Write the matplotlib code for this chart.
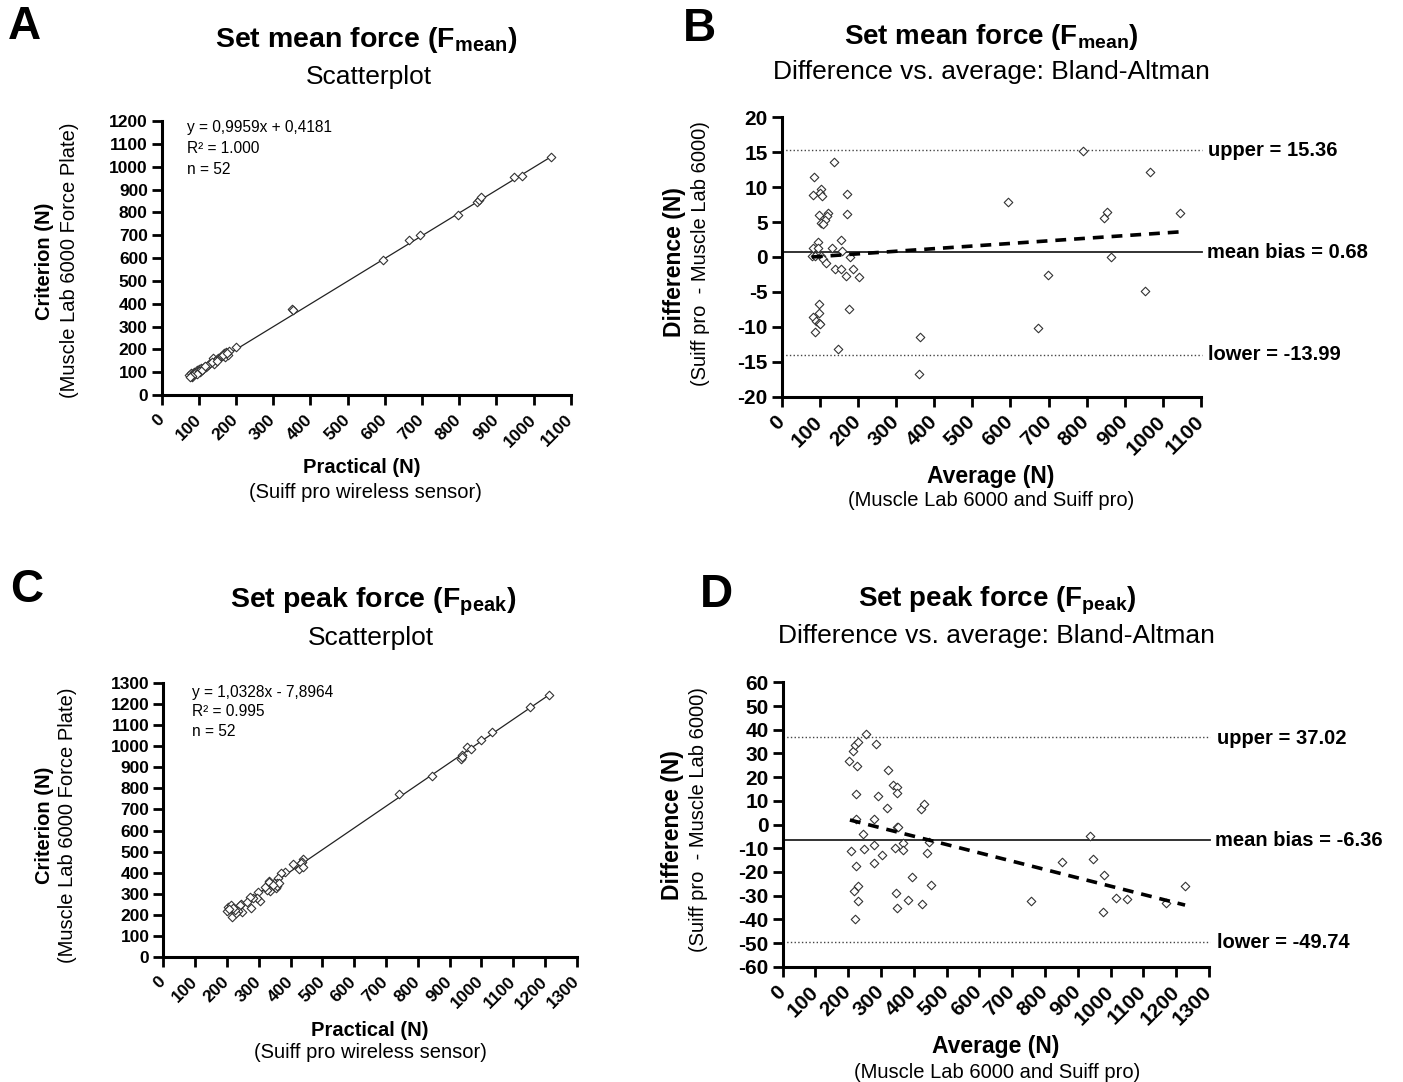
import matplotlib
matplotlib.use("Agg")
import matplotlib.pyplot as plt
import numpy as np

plt.rcParams['font.family'] = ['Liberation Sans', 'DejaVu Sans']
plt.rcParams['mathtext.fontset'] = 'custom'
plt.rcParams['mathtext.rm'] = 'Liberation Sans'
plt.rcParams['mathtext.bf'] = 'Liberation Sans:bold'

W, H = 1403, 1082

# ---- Panel A: set mean force, scatter ----
practical_mean = [74, 78, 81, 85, 88, 92, 94, 97, 100, 103, 106, 110, 114, 119, 125, 130,
                  137, 141, 146, 152, 157, 162, 168, 170, 173, 177, 182, 200, 83, 90, 99,
                  108, 116, 134, 150, 166, 175, 94, 82, 76,
                  351, 354, 596, 665, 696, 797, 849, 854, 860, 948, 970, 1048]
criterion_mean = [88, 95, 80, 88, 102, 95, 109, 102, 112, 102, 117, 112, 121, 124, 131, 139,
                  161, 136, 153, 161, 165, 171, 182, 168, 188, 175, 194, 212, 92, 98, 106,
                  109, 127, 146, 150, 177, 185, 92, 85, 77,
                  375, 372, 593, 680, 702, 787, 847, 854, 866, 956, 961, 1044]
fit_mean = (0.9959, 0.4181)

# ---- Panel B: set mean force, Bland-Altman ----
avg_mean = [85, 81, 103, 100, 105, 138, 172, 99, 122, 120, 114, 102, 109, 171, 94, 81, 95,
            133, 155, 159, 79, 103, 108, 116, 179, 139, 155, 188, 169, 204, 97, 99, 83, 89,
            97, 101, 87, 177, 149, 87, 364, 361, 594, 698, 672, 791, 846, 853, 863, 966,
            953, 1045]
diff_mean = [11.45, 8.9, 9.7, 9.1, 8.7, 13.6, 9.0, 6.0, 6.3, 5.9, 5.3, 4.9, 4.7, 6.2, 2.1,
             1.3, 1.3, 1.3, 2.4, 0.8, 0.2, 0.2, -0.3, -0.9, 0.05, -1.7, -1.7, -1.7, -2.7,
             -2.8, -6.7, -8.0, -8.6, -9.2, -9.5, -9.6, -10.8, -7.5, -13.1, 0.2, -11.5, -16.8,
             7.9, -2.6, -10.1, 15.2, 5.6, 6.5, 0.05, 12.2, -4.9, 6.3]
bias_mean, upper_mean, lower_mean = 0.68, 15.36, -13.99
trend_mean_x = [79, 1045]
trend_mean_y = [0.0, 3.6]

# ---- Panel C: set peak force, scatter ----
practical_peak = [1214, 1153, 1035, 999, 956, 968, 940, 935, 845, 742, 440, 437, 432, 428,
                  440, 408, 383, 370, 362, 356, 348, 333, 331, 335, 325, 299, 304, 296, 283,
                  273, 276, 244, 241, 248, 236, 225, 217, 210, 204, 201, 213, 229, 353, 358,
                  365, 938, 226, 219, 345, 262, 320, 207]
criterion_peak = [1242, 1189, 1068, 1030, 998, 989, 957, 940, 859, 773, 466, 452, 444, 417,
                  428, 439, 404, 399, 372, 349, 352, 361, 353, 311, 317, 309, 266, 280, 277,
                  285, 233, 249, 244, 211, 219, 211, 187, 235, 238, 219, 246, 206, 325, 336,
                  349, 948, 224, 230, 340, 262, 330, 228]
fit_peak = (1.0328, -7.8964)

# ---- Panel D: set peak force, Bland-Altman ----
avg_peak = [202, 215, 222, 231, 254, 285, 228, 225, 224, 208, 224, 229, 218, 229, 220, 244,
            247, 279, 290, 278, 278, 304, 318, 321, 335, 348, 348, 350, 342, 344, 349, 368,
            367, 393, 383, 422, 432, 424, 446, 440, 451, 756, 851, 938, 946, 980, 976, 1015,
            1050, 1170, 1227, 352]
diff_peak = [26.9, 31.0, 33.7, 35.0, 38.3, 34.1, 24.7, 12.7, 2.3, -11.2, -17.4, -26.1, -28.2,
             -32.1, -39.9, -4.1, -10.5, 2.3, 11.9, -8.6, -16.1, -12.9, 6.8, 23.0, 16.5, 16.0,
             13.4, -0.9, -9.8, -29.0, -35.1, -7.7, -10.9, -22.3, -31.7, 6.4, 8.8, -33.7, -7.4,
             -12.2, -25.7, -32.4, -15.7, -4.9, -14.6, -21.3, -36.9, -31.0, -31.3, -33.1,
             -25.8, -0.9]
bias_peak, upper_peak, lower_peak = -6.36, 37.02, -49.74
trend_peak_x = [205, 1227]
trend_peak_y = [1.9, -34.0]


def px(x, y):
    return x / W, 1 - y / H


def rect(left, top, right, bottom):
    return [left / W, 1 - bottom / H, (right - left) / W, (bottom - top) / H]


def style_axes(ax, xmax, ymin, ymax, ystep, tick_size):
    for s in ['top', 'right']:
        ax.spines[s].set_visible(False)
    for s in ['left', 'bottom']:
        ax.spines[s].set_linewidth(2.2)
    ax.set_xlim(0, xmax)
    ax.set_ylim(ymin, ymax)
    xt = np.arange(0, xmax + 1, 100)
    ax.set_xticks(xt)
    ax.set_xticklabels([str(v) for v in xt], rotation=45, ha='right', va='center',
                       rotation_mode='anchor', fontweight='bold', fontsize=tick_size)
    yt = np.arange(ymin, ymax + 1, ystep)
    ax.set_yticks(yt)
    ax.set_yticklabels([str(v) for v in yt], fontweight='bold', fontsize=tick_size)
    ax.tick_params(direction='out', length=7, width=2, pad=3)
    ax.tick_params(axis='x', pad=9)


def diamonds(ax, x, y):
    ax.scatter(x, y, marker='D', s=19, facecolors='white', edgecolors='#333333',
               linewidths=0.8, zorder=3)


fig = plt.figure(figsize=(W / 100, H / 100), dpi=100)

# panel A
axA = fig.add_axes(rect(161.7, 121, 570.7, 395))
style_axes(axA, 1100, 0, 1200, 100, 12.5)
fx = np.array([75, 1050])
axA.plot(fx, fit_mean[0] * fx + fit_mean[1], color='#222222', lw=0.9, zorder=2)
diamonds(axA, practical_mean, criterion_mean)

# panel B
axB = fig.add_axes(rect(781.7, 117.3, 1201, 396.7))
style_axes(axB, 1100, -20, 20, 5, 15)
axB.plot([0, 1103], [upper_mean, upper_mean], ls=':', color='#444444', lw=1, clip_on=False)
axB.plot([0, 1103], [lower_mean, lower_mean], ls=':', color='#444444', lw=1, clip_on=False)
axB.plot([0, 1103], [bias_mean, bias_mean], ls='-', color='#222222', lw=1.3, clip_on=False)
axB.plot(trend_mean_x, trend_mean_y, ls=(0, (3, 2.2)), color='black', lw=2.6, zorder=4)
diamonds(axB, avg_mean, diff_mean)

# panel C
axC = fig.add_axes(rect(163.3, 683.3, 576.7, 956.7))
style_axes(axC, 1300, 0, 1300, 100, 12.5)
fx = np.array([200, 1215])
axC.plot(fx, fit_peak[0] * fx + fit_peak[1], color='#222222', lw=0.9, zorder=2)
diamonds(axC, practical_peak, criterion_peak)

# panel D
axD = fig.add_axes(rect(782.7, 682.3, 1209, 966.7))
style_axes(axD, 1300, -60, 60, 10, 15)
axD.plot([0, 1303], [upper_peak, upper_peak], ls=':', color='#444444', lw=1, clip_on=False)
axD.plot([0, 1303], [lower_peak, lower_peak], ls=':', color='#444444', lw=1, clip_on=False)
axD.plot([0, 1303], [bias_peak, bias_peak], ls='-', color='#222222', lw=1.3, clip_on=False)
axD.plot(trend_peak_x, trend_peak_y, ls=(0, (3, 2.2)), color='black', lw=2.6, zorder=4)
diamonds(axD, avg_peak, diff_peak)

# panel letters
for letter, (x, y) in zip('ABCD', [(8, 27), (683, 29), (10, 590), (700, 595)]):
    fig.text(*px(x, y), letter, fontsize=33, fontweight='bold', ha='left', va='center')

# titles
fig.text(*px(366, 40), r'Set mean force (F$_{\mathbf{mean}}$)', fontsize=20.5,
         fontweight='bold', ha='center', va='center')
fig.text(*px(369, 77), 'Scatterplot', fontsize=19, ha='center', va='center')
fig.text(*px(373, 602), r'Set peak force (F$_{\mathbf{peak}}$)', fontsize=20.5,
         fontweight='bold', ha='center', va='center')
fig.text(*px(371, 638), 'Scatterplot', fontsize=19, ha='center', va='center')
fig.text(*px(991, 37), r'Set mean force (F$_{\mathbf{mean}}$)', fontsize=20,
         fontweight='bold', ha='center', va='center')
fig.text(*px(991, 72), 'Difference vs. average: Bland-Altman', fontsize=19,
         ha='center', va='center')
fig.text(*px(997, 601), r'Set peak force (F$_{\mathbf{peak}}$)', fontsize=20,
         fontweight='bold', ha='center', va='center')
fig.text(*px(996, 636), 'Difference vs. average: Bland-Altman', fontsize=19,
         ha='center', va='center')

# axis labels
lab = 14.5
lab_b = 16.5
fig.text(*px(45, 261), 'Criterion (N)', fontsize=lab, fontweight='bold', rotation=90,
         ha='center', va='center')
fig.text(*px(70, 260), '(Muscle Lab 6000 Force Plate)', fontsize=lab, rotation=90,
         ha='center', va='center')
fig.text(*px(362, 468), 'Practical (N)', fontsize=lab, fontweight='bold', ha='center', va='center')
fig.text(*px(365, 492), '(Suiff pro wireless sensor)', fontsize=lab, ha='center', va='center')

fig.text(*px(674, 262), 'Difference (N)', fontsize=lab_b, fontweight='bold', rotation=90,
         ha='center', va='center')
fig.text(*px(700, 254), '(Suiff pro  - Muscle Lab 6000)', fontsize=lab, rotation=90,
         ha='center', va='center')
fig.text(*px(991, 477), 'Average (N)', fontsize=lab_b, fontweight='bold', ha='center', va='center')
fig.text(*px(991, 501), '(Muscle Lab 6000 and Suiff pro)', fontsize=lab, ha='center', va='center')

fig.text(*px(45, 825), 'Criterion (N)', fontsize=lab, fontweight='bold', rotation=90,
         ha='center', va='center')
fig.text(*px(68, 825), '(Muscle Lab 6000 Force Plate)', fontsize=lab, rotation=90,
         ha='center', va='center')
fig.text(*px(370, 1030), 'Practical (N)', fontsize=lab, fontweight='bold', ha='center', va='center')
fig.text(*px(370, 1053), '(Suiff pro wireless sensor)', fontsize=lab, ha='center', va='center')

fig.text(*px(672, 825), 'Difference (N)', fontsize=lab_b, fontweight='bold', rotation=90,
         ha='center', va='center')
fig.text(*px(698, 820), '(Suiff pro  - Muscle Lab 6000)', fontsize=lab, rotation=90,
         ha='center', va='center')
fig.text(*px(996, 1047), 'Average (N)', fontsize=lab_b, fontweight='bold', ha='center', va='center')
fig.text(*px(997, 1072), '(Muscle Lab 6000 and Suiff pro)', fontsize=lab, ha='center', va='center')

# regression annotations
for i, t in enumerate(['y = 0,9959x + 0,4181', 'R² = 1.000', 'n = 52']):
    fig.text(*px(187, 128 + 20.5 * i), t, fontsize=11.2, ha='left', va='center')
for i, t in enumerate(['y = 1,0328x - 7,8964', 'R² = 0.995', 'n = 52']):
    fig.text(*px(192, 692 + 20 * i), t, fontsize=11.2, ha='left', va='center')

# bias labels
for (x, y), t in zip([(1208, 151), (1207, 253), (1208, 355)],
                     ['upper = 15.36', 'mean bias = 0.68', 'lower = -13.99']):
    fig.text(*px(x, y), t, fontsize=14.5, fontweight='bold', ha='left', va='center')
for (x, y), t in zip([(1217, 738), (1215, 840), (1217, 943)],
                     ['upper = 37.02', 'mean bias = -6.36', 'lower = -49.74']):
    fig.text(*px(x, y), t, fontsize=14.5, fontweight='bold', ha='left', va='center')

fig.savefig('out.png', dpi=100)
